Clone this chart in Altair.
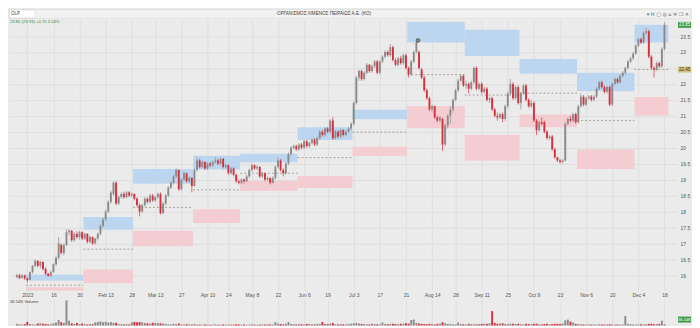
import altair as alt
import pandas as pd

TITLE = "ΟΡΓΑΝΙΣΜΟΣ ΛΙΜΕΝΟΣ ΠΕΙΡΑΙΩΣ Α.Ε. (ΚΟ)"
SYMBOL = "OLP"
QUOTE_LINE = "23.85 (23.93) +0.75 3.24%"
ICONS = "▾  H  ▢  ◎  ⌂  ≡  ❐  ✕"
VOLUME_LABEL = "36.54K Volume"
VOLUME_LAST = ["36.54K"]
LAST_PRICE = [23.85]
LAST_PRICE_TEXT = ["23.85"]
PIVOT_VALUE = [22.45]
PIVOT_TEXT = ["22.45"]
MARKER_INDEX = [149.6]
MARKER_PRICE = [23.36]

FIRST_INDEX = -4
OPEN = [
    15.95, 16.00, 15.92, 16.00, 15.90, 15.86, 16.10, 16.30, 16.45, 16.30,
    16.42, 16.20, 16.05, 15.98, 16.10, 16.35, 16.55, 16.95, 16.70, 16.95,
    17.35, 17.40, 17.10, 17.30, 17.20, 17.35, 17.15, 17.30, 17.05, 17.20,
    17.00, 17.15, 17.30, 17.55, 17.75, 18.00, 18.30, 18.55, 18.90, 18.25,
    18.45, 18.55, 18.45, 18.60, 18.50, 18.55, 18.40, 18.20, 18.00, 18.20,
    18.40, 18.30, 18.50, 18.35, 18.45, 18.55, 17.95, 18.25, 18.50, 18.75,
    18.90, 19.10, 19.30, 18.70, 19.00, 19.20, 18.95, 19.05, 18.80, 19.30,
    19.60, 19.40, 19.55, 19.35, 19.50, 19.45, 19.55, 19.60, 19.50, 19.65,
    19.40, 19.45, 19.20, 19.35, 19.15, 18.95, 18.90, 19.00, 18.95, 19.10,
    19.30, 19.45, 19.35, 19.40, 19.10, 19.20, 19.00, 19.05, 18.90, 19.05,
    19.40, 19.60, 19.30, 19.20, 19.50, 19.80, 20.00, 20.05, 19.95, 20.10,
    20.00, 20.20, 20.05, 20.15, 20.25, 20.10, 20.30, 20.50, 20.40, 20.60,
    20.50, 20.85, 20.30, 20.50, 20.35, 20.55, 20.40, 20.50, 20.60, 20.75,
    21.40, 22.20, 22.40, 22.15, 22.35, 22.60, 22.40, 22.55, 22.70, 22.35,
    22.70, 22.85, 23.00, 22.90, 23.15, 22.75, 22.60, 22.80, 22.65, 22.90,
    22.50, 22.30, 22.70, 23.00, 23.00, 22.45, 22.20, 21.80, 21.55, 21.20,
    21.30, 20.95, 20.85, 20.90, 20.10, 20.70, 21.00, 21.20, 21.50, 21.80,
    22.10, 22.25, 21.95, 22.00, 21.85, 22.05, 22.50, 21.85, 22.00, 21.75,
    21.85, 21.50, 21.55, 21.20, 21.00, 20.95, 21.05, 20.90, 21.30, 21.70,
    22.00, 21.55, 21.90, 21.40, 21.70, 21.95, 21.50, 21.30, 21.40, 20.85,
    20.55, 20.80, 20.80, 20.50, 20.30, 20.35, 19.95, 19.70, 19.60, 19.55,
    19.60, 20.75, 20.90, 20.85, 21.05, 20.80, 21.30, 21.60, 21.35, 21.55,
    21.60, 21.50, 21.60, 21.85, 22.05, 21.90, 21.75, 21.90, 21.35, 22.00,
    22.15, 22.05, 22.25, 22.35, 22.50, 22.70, 22.80, 22.95, 23.20, 23.40,
    23.30, 23.60, 23.65, 22.85, 22.50, 22.45, 22.65, 22.55, 23.10,
]
HIGH = [
    16.05, 16.05, 16.04, 16.02, 15.93, 16.12, 16.32, 16.50, 16.48, 16.46,
    16.44, 16.25, 16.08, 16.15, 16.38, 16.60, 17.20, 17.00, 17.00, 17.45,
    17.45, 17.42, 17.35, 17.38, 17.40, 17.38, 17.33, 17.32, 17.25, 17.22,
    17.18, 17.35, 17.60, 17.80, 18.05, 18.35, 18.65, 18.95, 18.95, 18.50,
    18.60, 18.62, 18.65, 18.64, 18.60, 18.58, 18.45, 18.25, 18.25, 18.45,
    18.45, 18.55, 18.55, 18.50, 18.60, 18.60, 18.30, 18.55, 18.80, 18.95,
    19.15, 19.35, 19.32, 19.05, 19.25, 19.22, 19.10, 19.08, 19.35, 19.70,
    19.65, 19.60, 19.58, 19.55, 19.55, 19.60, 19.70, 19.65, 19.70, 19.68,
    19.50, 19.48, 19.40, 19.38, 19.18, 19.00, 19.05, 19.03, 19.15, 19.35,
    19.50, 19.48, 19.45, 19.42, 19.25, 19.22, 19.10, 19.08, 19.10, 19.45,
    19.70, 19.65, 19.35, 19.55, 19.85, 20.05, 20.10, 20.10, 20.15, 20.15,
    20.25, 20.25, 20.20, 20.30, 20.30, 20.35, 20.55, 20.55, 20.65, 20.65,
    20.90, 20.95, 20.55, 20.55, 20.60, 20.58, 20.55, 20.65, 20.80, 21.45,
    22.25, 22.45, 22.45, 22.40, 22.65, 22.62, 22.60, 22.75, 22.75, 22.75,
    22.90, 23.05, 23.05, 23.25, 23.20, 22.80, 22.85, 22.88, 22.95, 22.95,
    22.55, 22.75, 23.05, 23.35, 23.05, 22.50, 22.25, 21.85, 21.60, 21.35,
    21.32, 21.00, 21.00, 20.95, 20.75, 21.05, 21.30, 21.55, 21.85, 22.15,
    22.30, 22.30, 22.10, 22.05, 22.10, 22.55, 22.55, 22.05, 22.05, 21.90,
    21.90, 21.60, 21.60, 21.25, 21.10, 21.10, 21.10, 21.35, 21.75, 22.15,
    22.05, 21.95, 21.95, 21.75, 22.00, 22.00, 21.55, 21.50, 21.45, 20.90,
    20.85, 20.95, 20.85, 20.55, 20.40, 20.40, 20.00, 19.72, 19.65, 19.65,
    20.80, 20.95, 21.00, 21.10, 21.10, 21.35, 21.70, 21.65, 21.60, 21.65,
    21.65, 21.65, 21.90, 22.10, 22.10, 21.95, 21.95, 21.95, 22.05, 22.20,
    22.20, 22.30, 22.40, 22.55, 22.75, 22.85, 23.00, 23.25, 23.45, 23.45,
    23.65, 23.75, 23.70, 22.90, 22.55, 22.70, 22.70, 23.15, 23.93,
]
LOW = [
    15.90, 15.88, 15.90, 15.86, 15.78, 15.84, 16.05, 16.25, 16.25, 16.22,
    16.15, 16.00, 15.95, 15.96, 16.08, 16.30, 16.50, 16.65, 16.62, 16.92,
    17.25, 17.05, 17.05, 17.15, 17.12, 17.10, 17.10, 17.00, 17.00, 16.95,
    16.97, 17.10, 17.25, 17.50, 17.70, 17.95, 18.25, 18.50, 18.20, 18.20,
    18.40, 18.40, 18.42, 18.45, 18.45, 18.35, 18.15, 17.85, 17.95, 18.15,
    18.25, 18.25, 18.30, 18.30, 18.40, 17.90, 17.92, 18.20, 18.45, 18.70,
    18.85, 19.05, 18.65, 18.65, 18.95, 18.90, 18.90, 18.60, 18.78, 19.25,
    19.35, 19.35, 19.30, 19.30, 19.40, 19.40, 19.50, 19.45, 19.45, 19.35,
    19.35, 19.15, 19.15, 19.10, 18.90, 18.85, 18.85, 18.88, 18.92, 19.05,
    19.25, 19.30, 19.30, 19.05, 19.05, 18.95, 18.95, 18.85, 18.88, 19.00,
    19.35, 19.25, 19.10, 19.15, 19.45, 19.75, 19.95, 19.90, 19.90, 19.95,
    19.95, 20.00, 20.00, 20.10, 20.05, 20.05, 20.25, 20.35, 20.35, 20.45,
    20.45, 20.25, 20.25, 20.30, 20.30, 20.35, 20.35, 20.45, 20.55, 20.70,
    21.35, 22.10, 22.10, 22.10, 22.30, 22.35, 22.35, 22.50, 22.30, 22.30,
    22.65, 22.80, 22.85, 22.85, 22.70, 22.55, 22.55, 22.60, 22.60, 22.45,
    22.20, 22.25, 22.65, 22.95, 22.45, 22.15, 21.75, 21.50, 21.15, 21.10,
    20.90, 20.80, 20.80, 19.90, 20.05, 20.60, 20.75, 21.10, 21.45, 21.75,
    22.05, 21.90, 21.85, 21.70, 21.80, 22.00, 21.80, 21.80, 21.70, 21.70,
    21.45, 21.40, 21.15, 20.95, 20.85, 20.90, 20.80, 20.85, 21.25, 21.65,
    21.50, 21.50, 21.35, 21.20, 21.65, 21.45, 21.25, 21.25, 20.80, 20.40,
    20.50, 20.70, 20.45, 20.25, 20.25, 19.90, 19.65, 19.55, 19.50, 19.50,
    19.58, 20.70, 20.80, 20.80, 20.75, 20.75, 21.25, 21.30, 21.30, 21.50,
    21.45, 21.45, 21.55, 21.80, 21.85, 21.70, 21.70, 21.30, 21.30, 21.95,
    22.00, 22.00, 22.20, 22.30, 22.45, 22.65, 22.75, 22.90, 23.15, 23.25,
    23.25, 23.55, 22.80, 22.45, 22.20, 22.40, 22.50, 22.50, 23.05,
]
CLOSE = [
    16.00, 15.92, 16.00, 15.90, 15.85, 16.10, 16.30, 16.45, 16.30, 16.42,
    16.20, 16.05, 15.98, 16.10, 16.35, 16.55, 17.00, 16.70, 16.95, 17.35,
    17.40, 17.10, 17.30, 17.20, 17.35, 17.15, 17.30, 17.05, 17.20, 17.00,
    17.15, 17.30, 17.55, 17.75, 18.00, 18.30, 18.60, 18.90, 18.25, 18.45,
    18.55, 18.45, 18.60, 18.50, 18.55, 18.40, 18.20, 18.00, 18.20, 18.40,
    18.30, 18.50, 18.35, 18.45, 18.55, 17.95, 18.25, 18.50, 18.75, 18.90,
    19.10, 19.30, 18.70, 19.00, 19.20, 18.95, 19.05, 18.80, 19.30, 19.60,
    19.40, 19.55, 19.35, 19.50, 19.45, 19.55, 19.60, 19.50, 19.65, 19.40,
    19.45, 19.20, 19.35, 19.15, 18.95, 18.90, 19.00, 18.95, 19.10, 19.30,
    19.45, 19.35, 19.40, 19.10, 19.20, 19.00, 19.05, 18.90, 19.05, 19.40,
    19.60, 19.30, 19.20, 19.50, 19.80, 20.00, 20.05, 19.95, 20.10, 20.00,
    20.20, 20.05, 20.15, 20.25, 20.10, 20.30, 20.50, 20.40, 20.60, 20.50,
    20.85, 20.30, 20.50, 20.35, 20.55, 20.40, 20.50, 20.60, 20.75, 21.40,
    22.20, 22.40, 22.15, 22.35, 22.60, 22.40, 22.55, 22.70, 22.35, 22.70,
    22.85, 23.00, 22.90, 23.15, 22.75, 22.60, 22.80, 22.65, 22.90, 22.50,
    22.30, 22.70, 23.00, 23.30, 22.50, 22.20, 21.80, 21.55, 21.20, 21.30,
    20.95, 20.85, 20.95, 20.10, 20.70, 21.00, 21.20, 21.50, 21.80, 22.10,
    22.25, 21.95, 22.00, 21.85, 22.05, 22.50, 21.85, 22.00, 21.75, 21.85,
    21.50, 21.55, 21.20, 21.00, 20.95, 21.05, 20.90, 21.30, 21.70, 22.00,
    21.55, 21.90, 21.40, 21.70, 21.95, 21.50, 21.30, 21.40, 20.85, 20.55,
    20.80, 20.75, 20.50, 20.30, 20.35, 19.95, 19.70, 19.60, 19.55, 19.60,
    20.75, 20.90, 20.85, 21.05, 20.80, 21.30, 21.60, 21.35, 21.55, 21.60,
    21.50, 21.60, 21.85, 22.05, 21.90, 21.75, 21.90, 21.35, 22.00, 22.15,
    22.05, 22.25, 22.35, 22.50, 22.70, 22.80, 22.95, 23.20, 23.40, 23.30,
    23.60, 23.65, 22.85, 22.50, 22.45, 22.65, 22.55, 23.10, 23.85,
]
VOLUME = [
    45, 30, 25, 35, 100, 40, 30, 25, 55, 60,
    50, 45, 30, 35, 60, 80, 150, 90, 70, 680,
    130, 60, 45, 70, 40, 55, 35, 30, 40, 35,
    85, 95, 110, 90, 100, 80, 95, 70, 75, 40,
    35, 30, 40, 30, 80, 100, 90, 95, 85, 70,
    60, 50, 75, 70, 65, 60, 55, 40, 35, 30,
    45, 40, 55, 30, 25, 35, 30, 25, 40, 30,
    25, 20, 30, 25, 20, 25, 30, 20, 25, 30,
    25, 20, 30, 25, 35, 30, 25, 30, 20, 25,
    30, 25, 20, 25, 30, 25, 35, 30, 25, 90,
    45, 40, 30, 50, 95, 40, 35, 30, 40, 35,
    30, 45, 40, 35, 30, 45, 40, 95, 40, 35,
    50, 70, 35, 30, 40, 35, 30, 45, 50, 60,
    70, 55, 45, 40, 35, 30, 45, 40, 35, 30,
    80, 40, 35, 45, 50, 40, 35, 50, 45, 60,
    50, 150, 160, 70, 55, 45, 40, 35, 45, 40,
    30, 45, 50, 90, 60, 45, 40, 35, 30, 80,
    40, 35, 30, 45, 40, 35, 30, 40, 45, 50,
    45, 60, 390, 70, 50, 55, 60, 45, 40, 50,
    45, 40, 50, 35, 30, 45, 40, 35, 45, 50,
    35, 30, 40, 45, 35, 40, 45, 50, 40, 55,
    140, 160, 110, 80, 45, 40, 35, 30, 25, 30,
    25, 30, 25, 35, 30, 25, 30, 35, 30, 25,
    30, 25, 30, 260, 40, 35, 30, 25, 30, 35,
    30, 40, 45, 50, 35, 40, 45, 130, 37,
]

TICK_INDEX = [0, 10, 20, 30, 40, 49, 59, 69, 77, 86, 96, 106, 115, 125, 135,
              145, 155, 164, 174, 184, 194, 204, 214, 224, 234, 244]
TICK_LABEL = ["2023", "16", "30", "Feb 13", "28", "Mar 13", "27", "Apr 10", "24",
              "May 8", "22", "Jun 6", "19", "Jul 3", "17", "31", "Aug 14", "28",
              "Sep 11", "25", "Oct 9", "23", "Nov 6", "20", "Dec 4", "18"]
PRICE_TICKS = [16, 16.5, 17, 17.5, 18, 18.5, 19, 19.5, 20, 20.5, 21, 21.5,
               22, 22.5, 23, 23.5]
HIDDEN_PRICE_LABEL = 22.5

ZONE_START = [0, 22, 41, 64, 82, 104, 125, 146, 168, 189, 211, 233]
ZONE_END = [21, 40, 63, 81, 103, 124, 145, 167, 188, 210, 232, 245]
BLUE_TOP = [16.02, 17.83, 19.33, 19.75, 19.81, 20.64, 21.19, 23.94, 23.70, 22.78, 22.35, 23.85]
BLUE_BOT = [15.84, 17.43, 18.87, 19.32, 19.54, 20.24, 20.89, 23.30, 22.87, 22.32, 21.77, 23.30]
PINK_TOP = [15.63, 16.18, 17.40, 18.07, 18.96, 19.11, 20.03, 21.31, 20.40, 21.04, 19.94, 21.59]
PINK_BOT = [15.52, 15.75, 16.91, 17.64, 18.65, 18.74, 19.75, 20.61, 19.60, 20.64, 19.33, 21.01]
PIVOT = [15.69, 16.82, 18.13, 18.68, 19.20, 19.69, 20.49, 22.29, 21.65, 21.71, 20.85, 22.45]

# ---------------------------------------------------------------- styling
BG = "#ebebeb"
GRID = "#dcdcdc"
UP = "#8a8a8a"
DOWN = "#d7303c"
BLUE = "#bcd6f0"
PINK = "#f3cdd2"
PIVOT_COLOR = "#8a8877"
VOL_UP = "#3a9a46"
VOL_DOWN = "#d23a44"
FONT = "Liberation Sans"

PW = 670
PH = 272
VH = 26

n = len(CLOSE)
df = pd.DataFrame({
    "i": list(range(FIRST_INDEX, FIRST_INDEX + n)),
    "open": OPEN, "high": HIGH, "low": LOW, "close": CLOSE, "vol": VOLUME,
})
df["dir"] = ["up" if c >= o else "down" for o, c in zip(OPEN, CLOSE)]

zones = pd.DataFrame({
    "x0": [s - 0.5 for s in ZONE_START],
    "x1": [e + 0.5 for e in ZONE_END],
    "bt": BLUE_TOP, "bb": BLUE_BOT, "pt": PINK_TOP, "pb": PINK_BOT, "pv": PIVOT,
})

label_expr = ("[" + ",".join("'" + t + "'" for t in TICK_LABEL) + "][indexof(["
              + ",".join(str(v) for v in TICK_INDEX) + "], datum.value)]")
price_label_expr = ("datum.value == " + str(HIDDEN_PRICE_LABEL)
                    + " ? '' : format(datum.value, '.1~f')")

xscale = alt.Scale(domain=[-5.1, 246.9], nice=False, zero=False)
yscale = alt.Scale(domain=[15.52, 24.02], nice=False, zero=False)

x_axis = alt.Axis(values=TICK_INDEX, labelExpr=label_expr, title=None, grid=True,
                  gridColor=GRID, gridWidth=0.8, ticks=False, domain=False,
                  labelFontSize=5, labelColor="#555555", labelPadding=2,
                  labelFont=FONT, labelFlush=False)
y_axis = alt.Axis(orient="right", values=PRICE_TICKS, labelExpr=price_label_expr,
                  title=None, grid=True, gridColor=GRID, gridWidth=0.8, ticks=False,
                  domain=False, labelFontSize=5, labelColor="#555555",
                  labelPadding=3, labelFont=FONT)


def X(f):
    return alt.X(f, type="quantitative", scale=xscale, axis=x_axis)


def Y(f):
    return alt.Y(f, type="quantitative", scale=yscale, axis=y_axis)


dir_color = alt.Color("dir:N", scale=alt.Scale(domain=["up", "down"], range=[UP, DOWN]),
                      legend=None)

blue = alt.Chart(zones).mark_rect(color=BLUE, clip=True).encode(
    x=X("x0"), x2="x1", y=Y("bt"), y2="bb")
pink = alt.Chart(zones).mark_rect(color=PINK, clip=True).encode(
    x=X("x0"), x2="x1", y=Y("pt"), y2="pb")
pivot = alt.Chart(zones).mark_rule(color=PIVOT_COLOR, strokeDash=[2, 2],
                                   strokeWidth=0.7, clip=True).encode(
    x=X("x0"), x2="x1", y=Y("pv"))

wicks = alt.Chart(df).mark_rule(strokeWidth=0.7).encode(
    x=X("i"), y=Y("low"), y2="high", color=dir_color)
bodies = alt.Chart(df).mark_bar(size=1.9).encode(
    x=X("i"), y=Y("open"), y2="close", color=dir_color)

marker = alt.Chart(pd.DataFrame({"i": MARKER_INDEX, "p": MARKER_PRICE})).mark_point(
    shape="circle", size=14, filled=True, fill="#8e8e8e", stroke="#333333",
    strokeWidth=0.6, opacity=1).encode(x=X("i"), y=Y("p"))

last_df = pd.DataFrame({"p": LAST_PRICE, "t": LAST_PRICE_TEXT})
last_box = alt.Chart(last_df).mark_rect(color="#3f9c47", yOffset=-3, y2Offset=3).encode(
    x=alt.value(PW + 1), x2=alt.value(PW + 14), y=Y("p"), y2="p")
last_txt = alt.Chart(last_df).mark_text(fontSize=4.5, color="white", font=FONT,
                                        align="center", baseline="middle").encode(
    x=alt.value(PW + 7.5), y=Y("p"), text="t:N")

piv_df = pd.DataFrame({"p": PIVOT_VALUE, "t": PIVOT_TEXT})
piv_box = alt.Chart(piv_df).mark_rect(color="#d3c37a", yOffset=-3, y2Offset=3).encode(
    x=alt.value(PW + 1), x2=alt.value(PW + 14), y=Y("p"), y2="p")
piv_txt = alt.Chart(piv_df).mark_text(fontSize=4.5, color="#333333", font=FONT,
                                      align="center", baseline="middle").encode(
    x=alt.value(PW + 7.5), y=Y("p"), text="t:N")

one = pd.DataFrame({"k": [0]})
header_band = alt.Chart(one).mark_rect(color="#f1f1f1", stroke="#d6d6d6",
                                       strokeWidth=0.5).encode(
    x=alt.value(0), x2=alt.value(PW + 14), y=alt.value(-10), y2=alt.value(-1))
sym_box = alt.Chart(one).mark_rect(color="#ffffff", stroke="#cfcfcf",
                                   strokeWidth=0.5).encode(
    x=alt.value(0.5), x2=alt.value(26), y=alt.value(-9.5), y2=alt.value(-1.5))
sym_txt = alt.Chart(one).mark_text(text=SYMBOL, fontSize=4.5, color="#444444",
                                   font=FONT, align="left", baseline="middle").encode(
    x=alt.value(2), y=alt.value(-5.5))
title_txt = alt.Chart(one).mark_text(text=TITLE, fontSize=4.6, color="#444444",
                                     font=FONT, align="center",
                                     baseline="middle").encode(
    x=alt.value(316), y=alt.value(-5.5))
icons_txt = alt.Chart(one).mark_text(text=ICONS, fontSize=5, color="#666666",
                                     font="DejaVu Sans", align="right",
                                     baseline="middle").encode(
    x=alt.value(PW + 12), y=alt.value(-5.5))
quote_txt = alt.Chart(one).mark_text(text=QUOTE_LINE, fontSize=4.2, color="#2f8a3a",
                                     font=FONT, align="left",
                                     baseline="middle").encode(
    x=alt.value(1), y=alt.value(3))

price = alt.layer(
    blue, pink, pivot, wicks, bodies, marker,
    piv_box, piv_txt, last_box, last_txt,
    header_band, sym_box, sym_txt, title_txt, icons_txt, quote_txt,
).properties(width=PW, height=PH)

vol_color = alt.Color("dir:N", scale=alt.Scale(domain=["up", "down"],
                                               range=[VOL_UP, VOL_DOWN]), legend=None)
vol_bars = alt.Chart(df).mark_bar(size=1.9).encode(
    x=alt.X("i:Q", scale=xscale,
            axis=alt.Axis(values=TICK_INDEX, labels=False, ticks=False, domain=False,
                          grid=True, gridColor=GRID, gridWidth=0.8, title=None)),
    y=alt.Y("vol:Q", scale=alt.Scale(domain=[0, 700], nice=False), axis=None),
    color=vol_color)
vol_label = alt.Chart(one).mark_text(text=VOLUME_LABEL, fontSize=4.2, color="#444444",
                                     font=FONT, align="left",
                                     baseline="top").encode(
    x=alt.value(1), y=alt.value(0))
vol_df = pd.DataFrame({"t": VOLUME_LAST})
vol_box = alt.Chart(vol_df).mark_rect(color="#3f9c47").encode(
    x=alt.value(PW + 1), x2=alt.value(PW + 14), y=alt.value(VH - 9), y2=alt.value(VH - 3))
vol_txt = alt.Chart(vol_df).mark_text(fontSize=4.2, color="white", font=FONT,
                                      align="center", baseline="middle").encode(
    x=alt.value(PW + 7.5), y=alt.value(VH - 6), text="t:N")

volume = alt.layer(vol_bars, vol_label, vol_box, vol_txt).properties(width=PW, height=VH)

chart = alt.vconcat(price, volume, spacing=2).properties(padding=0).configure(
    background=BG, font=FONT).configure_view(strokeWidth=0)

chart.save("out.html", embed_options={"renderer": "svg", "actions": False})
